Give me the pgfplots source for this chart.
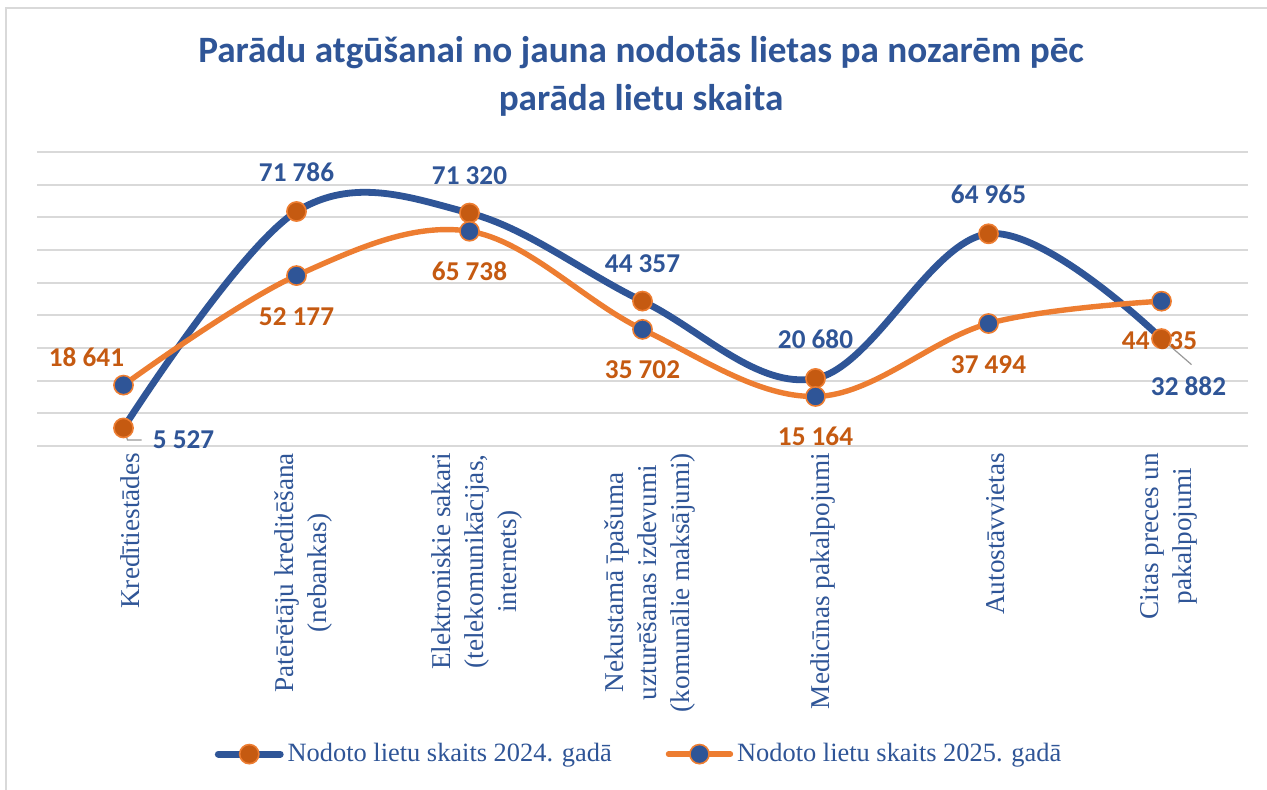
\documentclass[border=0pt]{standalone}
\usepackage{pgfplots}
\pgfplotsset{compat=1.18}
\usepackage{pgfplotstable}
\usepackage{fontspec}
\setmainfont{Liberation Serif}
\newfontfamily\carlito{Carlito}
\definecolor{cblue}{HTML}{2F5597}
\definecolor{corange}{HTML}{ED7D31}
\definecolor{dorange}{HTML}{C55A11}
\definecolor{gridgray}{HTML}{D9D9D9}

\pgfplotstableread{
x y dx dy
0 5527 30 -6
1 71786 0 19.5
2 71320 0 18.5
3 44357 0 18.5
4 20680 0 19.5
5 64965 0 19.5
6 32882 13.5 -24
}\dataA

\pgfplotstableread{
x y dx dy
0 18641 -18.5 14
1 52177 0 -20.5
2 65738 0 -20
3 35702 0 -20
4 15164 0 -20
5 37494 0 -20.5
6 44335 -1 -19.5
}\dataB

\begin{document}
\begin{tikzpicture}
\useasboundingbox (0,0) rectangle (633.5pt,394.5pt);
\fill[white] (0,0) rectangle (633.5pt,394.5pt);
\draw[gridgray, line width=1.2pt] (3pt,-5pt) -- (3pt,390.5pt) -- (640pt,390.5pt);

\node[font=\carlito\bfseries\fontsize{18.6}{24}\selectfont, text=cblue, align=center] at (320.5pt,356.5pt)
  {Parādu atgūšanai no jauna nodotās lietas pa nozarēm pēc\\parāda lietu skaita};

\begin{axis}[
  at={(18.5pt,171.5pt)}, anchor=south west,
  scale only axis, width=605.5pt, height=147pt,
  xmin=-0.5, xmax=6.5, ymin=0, ymax=90000,
  axis line style={draw=none},
  ytick={0,10000,...,90000}, yticklabels={}, scaled y ticks=false,
  ymajorgrids, grid style={color=gridgray, line width=0.9pt},
  xtick={0,...,6},
  xticklabels={Kredītiestādes,
    {Patērētāju kreditēšana\\(nebankas)},
    {Elektroniskie sakari\\(telekomunikācijas,\\internets)},
    {Nekustamā īpašuma\\uzturēšanas izdevumi\\(komunālie maksājumi)},
    Medicīnas pakalpojumi,
    Autostāvvietas,
    {Citas preces un\\pakalpojumi}},
  major tick length=0pt,
  xticklabel style={rotate=90, anchor=east, align=center, yshift=-3.5pt,
    font=\fontsize{13.6}{16.5}\selectfont, text=cblue},
  clip=false,
  legend columns=2,
  legend style={at={(0.498,-1.048)}, anchor=center, draw=none, fill=none,
    font=\fontsize{13.2}{16}\selectfont, text=cblue,
    /tikz/every even column/.append style={column sep=25pt}},
  legend image code/.code={\draw[mark repeat=2,mark phase=2,#1] plot coordinates {(0pt,0pt) (15.5pt,0pt) (31pt,0pt)};},
  nodes near coords={\pgfmathprintnumber[assume math mode=true,fixed,precision=0,1000 sep={\ }]{\pgfplotspointmeta}},
  visualization depends on={\thisrow{dx} \as \dx},
  visualization depends on={\thisrow{dy} \as \dy},
]
\draw[gray!80, line width=0.6pt] (axis cs:0,5527) -- ++(2pt,-6pt) -- ++(7pt,0pt);
\draw[gray!80, line width=0.6pt] (axis cs:6,32882) -- ++(15pt,-13pt);

\addplot[smooth, tension=0.6, color=cblue, line width=3.4pt, line cap=round,
  mark=*, mark size=4.8pt, mark options={fill=dorange, draw=corange, line width=0.8pt},
  every node near coord/.append style={anchor=center, xshift=\dx pt, yshift=\dy pt,
    font=\carlito\bfseries\fontsize{13.6}{15}\selectfont, text=cblue}]
  table[x=x, y=y, meta=y] {\dataA};
\addlegendentry{Nodoto lietu skaits 2024. gadā}

\addplot[smooth, tension=0.6, color=corange, line width=2.7pt, line cap=round,
  mark=*, mark size=4.8pt, mark options={fill=cblue, draw=corange, line width=0.8pt},
  every node near coord/.append style={anchor=center, xshift=\dx pt, yshift=\dy pt,
    font=\carlito\bfseries\fontsize{13.6}{15}\selectfont, text=dorange}]
  table[x=x, y=y, meta=y] {\dataB};
\addlegendentry{Nodoto lietu skaits 2025. gadā}
\end{axis}
\end{tikzpicture}
\end{document}
